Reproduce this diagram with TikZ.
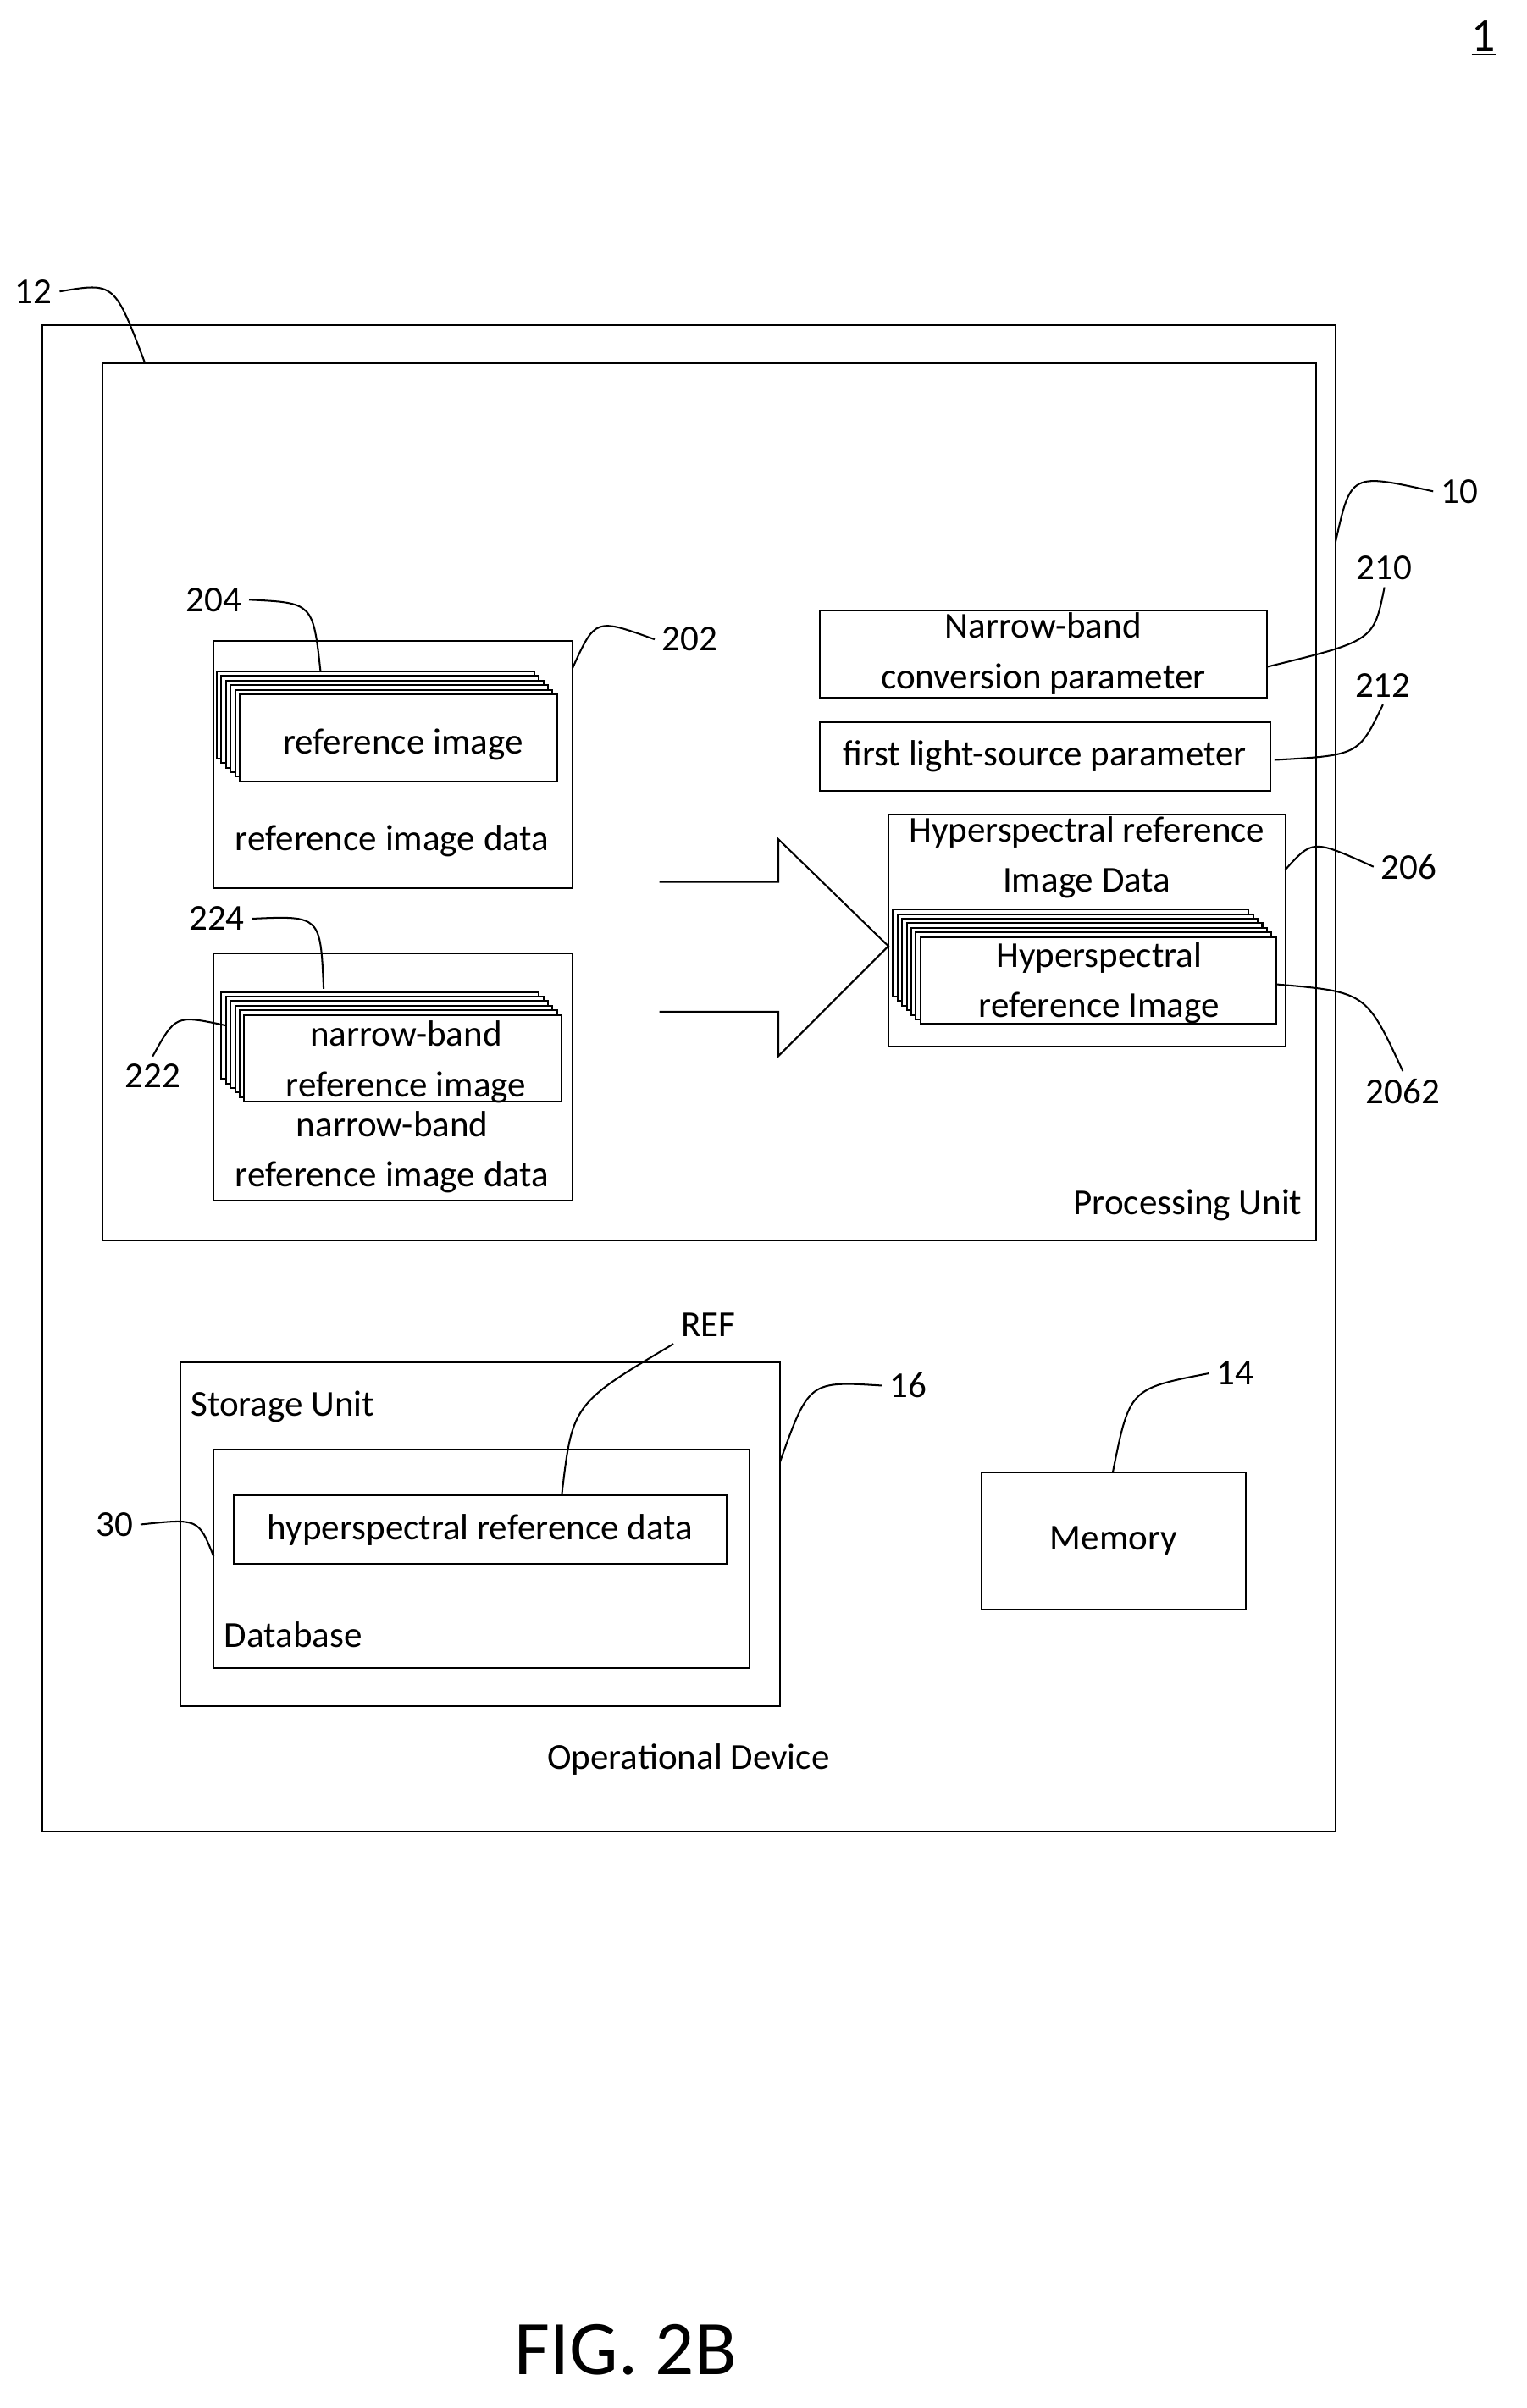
\documentclass[tikz,border=0pt]{standalone}
\usepackage{fontspec}
\setmainfont{Carlito}
\usetikzlibrary{fit}

\begin{document}
\begin{tikzpicture}[x=0.025cm,y=-0.025cm,
    box/.style={draw, thick, inner sep=0pt},
    lbl/.style={font=\fontsize{17}{23.5}\selectfont, align=center},
    lead/.style={thick}]

  % --- page frame -------------------------------------------------
  \useasboundingbox (0,0) rectangle (1000,1578);
  \node[lbl, font=\fontsize{22}{24}\selectfont] (fig1) at (972,25) {\underline{1}};

  % --- operational device / processing unit -----------------------
  \node[box, fit={(28,213) (875,1200)}] (dev) {};
  \node[box, fit={(67,238) (862,813)}] (proc) {};
  \node[lbl, anchor=east] (proclbl) at (858,790) {Processing Unit};
  \node[lbl] (devlbl) at (451,1153) {Operational Device};

  % --- reference image data ---------------------------------------
  \node[box, fit={(140,420) (375,582)}] (refdata) {};
  \foreach \i in {0,...,5}
      \draw[thick, fill=white] (142+3*\i,440+3*\i) rectangle ++(208,57);
  \node[lbl] (refimg) at (264,488) {reference image};
  \node[lbl] (refdatalbl) at (257,551) {reference image data};

  % --- narrow-band reference image data ---------------------------
  \node[box, fit={(140,625) (375,787)}] (nbdata) {};
  \foreach \i in {0,...,5}
      \draw[thick, fill=white] (145+3*\i,650+3*\i) rectangle ++(208,57);
  \node[lbl] (nbimg) at (266,696) {narrow-band\\reference image};
  \node[lbl] (nbdatalbl) at (257,755) {narrow-band\\reference image data};

  % --- block arrow ------------------------------------------------
  \draw[thick] (432,578) -- (510,578) -- (510,550) -- (582,620)
        -- (510,692) -- (510,663) -- (432,663);

  % --- parameters -------------------------------------------------
  \node[box, fit={(537,400) (830,457)}] (nbconv) {};
  \node[lbl] at (nbconv) {Narrow-band\\conversion parameter};
  \node[box, fit={(537,473) (832,518)}] (light) {};
  \node[lbl] at (light) {first light-source parameter};

  % --- hyperspectral reference image data -------------------------
  \node[box, fit={(582,534) (842,686)}] (hsdata) {};
  \node[lbl] (hsdatalbl) at (712,562) {Hyperspectral reference\\Image Data};
  \foreach \i in {0,...,6}
      \draw[thick, fill=white] (585+3*\i,596+3*\i) rectangle ++(233,57);
  \node[lbl] (hsimg) at (720,644) {Hyperspectral\\reference Image};

  % --- storage unit -----------------------------------------------
  \node[box, fit={(118,893) (511,1118)}] (store) {};
  \node[lbl, anchor=west] (storelbl) at (120,922) {Storage Unit};
  \node[box, fit={(140,950) (491,1093)}] (db) {};
  \node[lbl, anchor=west] (dblbl) at (142,1071) {Database};
  \node[box, fit={(153,980) (476,1025)}] (hsref) {};
  \node[lbl] at (hsref) {hyperspectral reference data};

  % --- memory -----------------------------------------------------
  \node[box, fit={(643,965) (816,1055)}] (mem) {};
  \node[lbl] at (mem) {Memory};

  % --- reference numerals -----------------------------------------
  \node[lbl] (n12)   at (22,191)  {12};
  \node[lbl] (n10)   at (956,322) {10};
  \node[lbl] (n204)  at (140,393) {204};
  \node[lbl] (n202)  at (452,419) {202};
  \node[lbl] (n210)  at (907,372) {210};
  \node[lbl] (n212)  at (906,449) {212};
  \node[lbl] (n206)  at (923,568) {206};
  \node[lbl] (n224)  at (142,602) {224};
  \node[lbl] (n222)  at (100,705) {222};
  \node[lbl] (n2062) at (919,715) {2062};
  \node[lbl] (nref)  at (464,868) {REF};
  \node[lbl] (n16)   at (595,908) {16};
  \node[lbl] (n14)   at (809,900) {14};
  \node[lbl] (n30)   at (75,999)  {30};

  % leader lines
  \draw[lead] (n12.east) .. controls (75,185) .. (95,238);
  \draw[lead] (n10.west) .. controls (885,310) .. (875,355);
  \draw[lead] (n204.east) .. controls (205,395) .. (210,440);
  \draw[lead] (n202.west) .. controls (390,405) .. (375,438);
  \draw[lead] (n210.south) .. controls (900,420) .. (830,437);
  \draw[lead] (n212.south) .. controls (890,495) .. (835,498);
  \draw[lead] (n206.west) .. controls (860,550) .. (842,570);
  \draw[lead] (n224.east) .. controls (210,600) .. (212,648);
  \draw[lead] (n222.north) .. controls (115,665) .. (148,672);
  \draw[lead] (n2062.north) .. controls (895,650) .. (836,645);
  \draw[lead] (nref.south west) .. controls (375,920) .. (368,980);
  \draw[lead] (n16.west) .. controls (530,905) .. (511,958);
  \draw[lead] (n14.west) .. controls (740,910) .. (729,965);
  \draw[lead] (n30.east) .. controls (130,995) .. (140,1020);

  % --- figure caption ---------------------------------------------
  \node[lbl, font=\fontsize{36}{40}\selectfont] (cap) at (410,1540) {FIG. 2B};

\end{tikzpicture}
\end{document}
